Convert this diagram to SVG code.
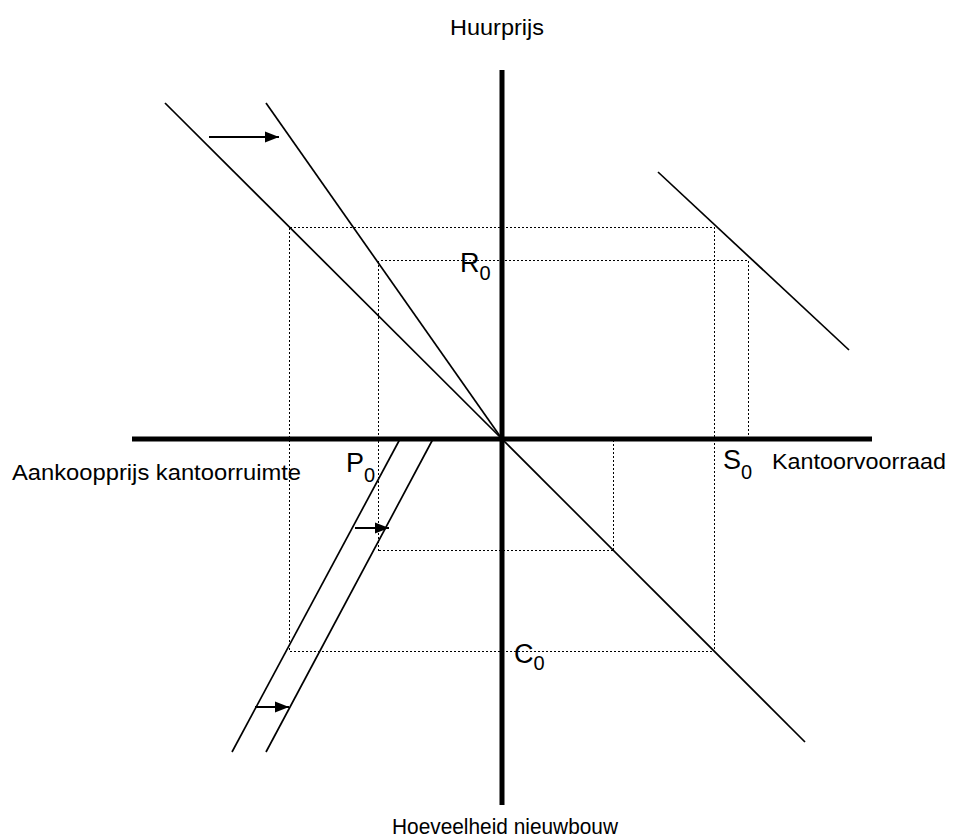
<svg xmlns="http://www.w3.org/2000/svg" width="953" height="840" viewBox="0 0 953 840">
<style>
.ax{stroke:#000;stroke-width:5;fill:none}
.ln{stroke:#000;stroke-width:1.7;fill:none}
.dot{stroke:#000;stroke-width:1;fill:none;stroke-dasharray:2,2;shape-rendering:crispEdges}
.arr{stroke:#000;stroke-width:2;fill:none;marker-end:url(#ah)}
.lbl{font-family:"Liberation Sans",Arial,sans-serif;font-size:22px;fill:#000}
.sym{font-family:"Liberation Sans",Arial,sans-serif;font-size:27px;fill:#000}
.sub{font-family:"Liberation Sans",Arial,sans-serif;font-size:20px;fill:#000}
</style>
<defs>
<marker id="ah" markerUnits="userSpaceOnUse" markerWidth="15" markerHeight="12" refX="14" refY="6" orient="auto">
<path d="M0,0.5 L14,6 L0,11.5 Z" fill="#000"/>
</marker>
</defs>
<rect width="953" height="840" fill="#fff"/>
<g id="guides">
<rect class="dot" x="289.5" y="227.5" width="425" height="424"/>
<path class="dot" d="M378.5,550.5 V260.5 H748.5 V439"/>
<path class="dot" d="M378.5,550.5 H613.5 V439"/>
</g>
<g id="axes">
<line class="ax" x1="502" y1="70" x2="502" y2="805"/>
<line class="ax" x1="132" y1="439" x2="872" y2="439"/>
</g>
<g id="connectors">
<line class="ln" x1="165" y1="103" x2="502" y2="439"/>
<line class="ln" x1="266" y1="103" x2="502" y2="439"/>
<line class="ln" x1="502" y1="439" x2="805" y2="742"/>
<line class="ln" x1="658" y1="172" x2="849" y2="350"/>
<line class="ln" x1="400" y1="439" x2="232" y2="752"/>
<line class="ln" x1="433" y1="439" x2="266" y2="752"/>
<line class="arr" x1="209" y1="137" x2="279" y2="137"/>
<line class="arr" x1="355" y1="528" x2="389" y2="528"/>
<line class="arr" x1="255" y1="707" x2="289" y2="707"/>
</g>
<g id="labels">
<text class="lbl" x="450" y="35" textLength="94" lengthAdjust="spacingAndGlyphs">Huurprijs</text>
<text class="lbl" x="12" y="480" textLength="289" lengthAdjust="spacingAndGlyphs">Aankoopprijs kantoorruimte</text>
<text class="lbl" x="772" y="469" textLength="174" lengthAdjust="spacingAndGlyphs">Kantoorvoorraad</text>
<text class="lbl" x="392" y="834" textLength="226" lengthAdjust="spacingAndGlyphs">Hoeveelheid nieuwbouw</text>
<text class="sym" x="460" y="272">R<tspan class="sub" dy="8">0</tspan></text>
<text class="sym" x="346" y="472">P<tspan class="sub" dy="10">0</tspan></text>
<text class="sym" x="723" y="469">S<tspan class="sub" dy="10">0</tspan></text>
<text class="sym" x="514" y="663">C<tspan class="sub" dy="7">0</tspan></text>
</g>
</svg>
